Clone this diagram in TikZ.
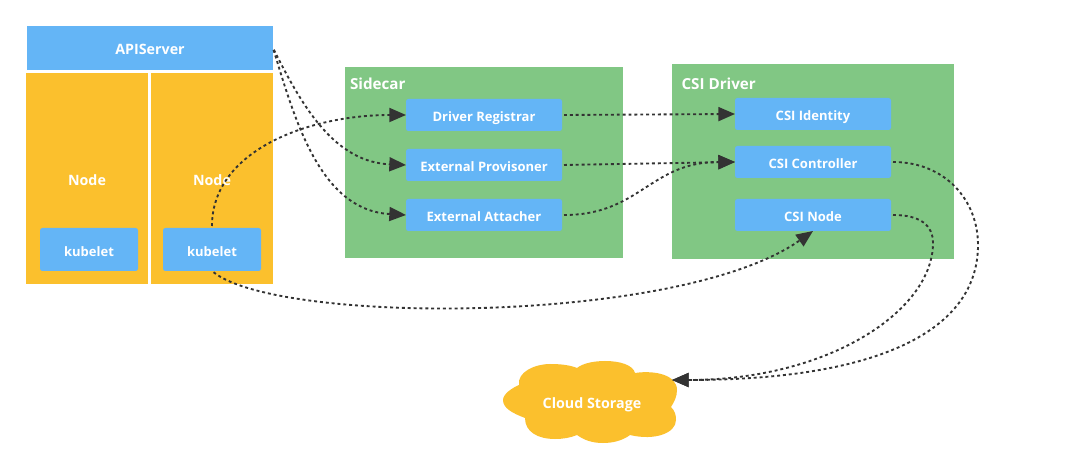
\documentclass[tikz,border=0pt]{standalone}
\usepackage{fontspec}
\setmainfont{Open Sans}
\usetikzlibrary{arrows.meta}
\definecolor{bluebox}{HTML}{64B5F6}
\definecolor{yellowbox}{HTML}{FBC02D}
\definecolor{greenbox}{HTML}{81C784}
\definecolor{linecol}{HTML}{333333}
\tikzset{
  lbl/.style={text=white,font=\bfseries\fontsize{9.75pt}{12pt}\selectfont,inner sep=0pt,outer sep=0pt,text height=10pt,text depth=0pt},
  biglbl/.style={lbl,font=\bfseries\fontsize{10.7pt}{13pt}\selectfont},
  head/.style={lbl,font=\bfseries\fontsize{11.4pt}{14pt}\selectfont,anchor=west},
  flat/.style={lbl,fill=#1,draw=none},
  smallbox/.style={lbl,fill=bluebox,rounded corners=1.8pt,minimum width=117pt,minimum height=24pt},
  kube/.style={lbl,fill=bluebox,rounded corners=1.8pt,minimum width=73.5pt,minimum height=32.25pt},
  nodebox/.style={biglbl,fill=yellowbox,minimum width=91.5pt,minimum height=158.25pt},
  link/.style={draw=linecol,line width=1.4pt,dash pattern=on 2.2pt off 2.2pt,shorten <=1.5pt},
  tip/.style={link,-{Triangle[length=12.5pt,width=10.5pt,fill=linecol]}},
}
\begin{document}
\begin{tikzpicture}[x=0.75pt,y=-0.75pt]
\useasboundingbox (0,0) rectangle (1075,470);
\fill[white] (0,0) rectangle (1075,470);
% groups
\node[flat=greenbox,minimum width=208.5pt,minimum height=143.25pt] (sidecar) at (484,162.5) {};
\node[flat=greenbox,minimum width=211.5pt,minimum height=146.25pt] (driver) at (813,161.5) {};
\node[head] (sidecarlabel) at (350,83) {Sidecar};
\node[head] (driverlabel) at (681.5,82.5) {CSI Driver};
% left
\node[flat=bluebox,biglbl,minimum width=184.5pt,minimum height=33pt] (api) at (150,48) {APIServer};
\node[nodebox] (node1) at (87,178.5) {Node};
\node[nodebox] (node2) at (212,178.5) {Node};
\node[kube] (kube1) at (89,249.5) {kubelet};
\node[kube] (kube2) at (212,249.5) {kubelet};
% sidecars
\node[smallbox] (reg) at (484,115) {Driver Registrar};
\node[smallbox] (prov) at (484,165) {External Provisoner};
\node[smallbox] (att) at (484,215) {External Attacher};
% csi
\node[smallbox] (ident) at (813,114) {CSI Identity};
\node[smallbox] (ctrl) at (813,162) {CSI Controller};
\node[smallbox] (csin) at (813,215) {CSI Node};
% cloud
\fill[yellowbox] (503,400)
  .. controls (503,394) and (512,388) .. (519,385)
  .. controls (517,372) and (535,364) .. (550,364)
  .. controls (560,364) and (570,365) .. (577,368)
  .. controls (583,363) and (595,361) .. (605,361)
  .. controls (620,361) and (633,365) .. (635,373)
  .. controls (655,370) and (677,375) .. (677,390)
  .. controls (677,397) and (674,402) .. (671,407)
  .. controls (675,411) and (676,415) .. (676,420)
  .. controls (676,433) and (655,441) .. (630,435)
  .. controls (622,441) and (612,443) .. (603,443)
  .. controls (592,443) and (584,440) .. (577,435)
  .. controls (570,438) and (562,439) .. (555,439)
  .. controls (538,439) and (525,432) .. (525,418)
  .. controls (512,413) and (503,408) .. (503,400) -- cycle;
\node[biglbl] (cloud) at (592,401.5) {Cloud Storage};
\coordinate (cloudin) at (672,380);
% connectors
\draw[tip] (api.east) .. controls (303,108) and (335,162) .. (prov.west);
\draw[tip] (api.east) .. controls (295,120) and (320,210) .. (att.west);
\draw[tip] (kube2.north) .. controls (212,150) and (310,115) .. (reg.west);
\draw[tip] (kube2.south) .. controls (280,325) and (680,325) .. (csin.south);
\draw[tip] (reg.east) -- (ident.west);
\draw[tip] (prov.east) -- (ctrl.west);
\draw[tip] (att.east) .. controls (640,215) and (650,162) .. (ctrl.west);
\draw[tip] (ctrl.east) .. controls (945,162) and (978,200) .. (978,245) .. controls (978,330) and (880,380) .. (cloudin);
\draw[tip] (csin.east) .. controls (920,215) and (933,225) .. (933,243) .. controls (933,310) and (830,380) .. (cloudin);
\end{tikzpicture}
\end{document}
